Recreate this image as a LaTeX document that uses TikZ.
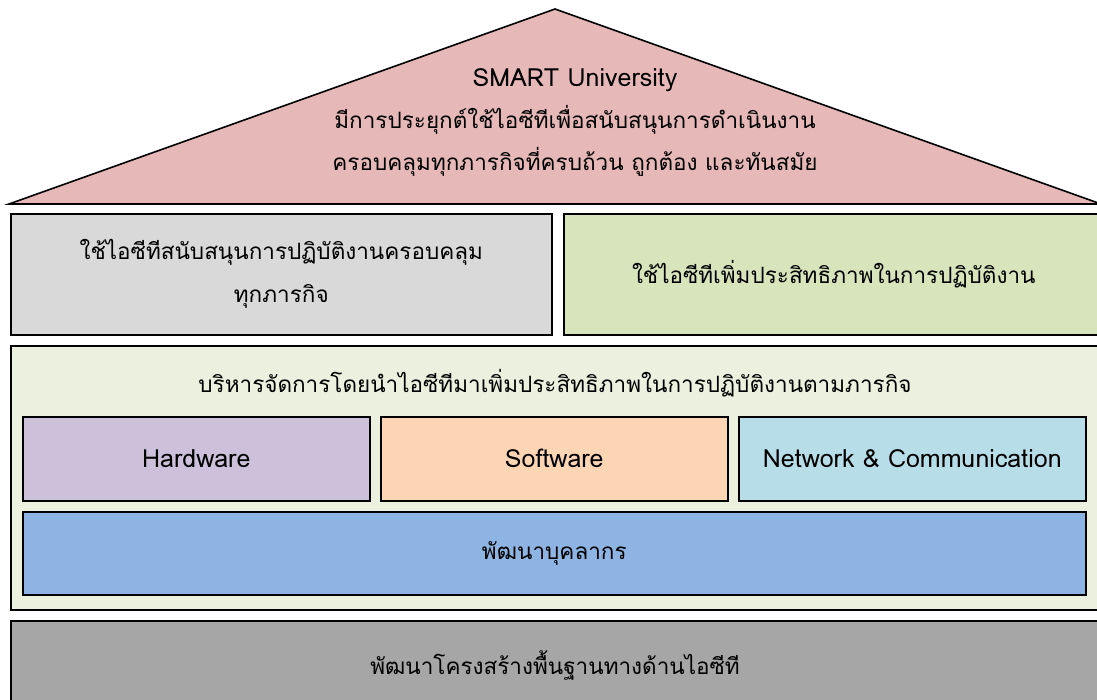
\documentclass[tikz,border=0pt]{standalone}
\usepackage{fontspec}
\setmainfont{Loma}[Script=Thai]
\usetikzlibrary{positioning}
\definecolor{roofpink}{HTML}{E6B8B7}
\definecolor{supgray}{HTML}{D9D9D9}
\definecolor{supgreen}{HTML}{D8E4BC}
\definecolor{mgmtbg}{HTML}{EBF1DE}
\definecolor{hwpurple}{HTML}{CCC0DA}
\definecolor{swpeach}{HTML}{FCD5B4}
\definecolor{netblue}{HTML}{B7DEE8}
\definecolor{staffblue}{HTML}{8DB4E2}
\definecolor{basegray}{HTML}{A6A6A6}
\newcommand{\latintext}{\fontsize{25}{43}\selectfont}
\tikzset{
  block/.style={draw=black, line width=1.6pt, align=center, inner sep=0pt, anchor=north west, font=\fontsize{22.5}{43}\selectfont},
  wideblock/.style={block, minimum width=541, minimum height=121},
  techblock/.style={block, minimum width=347, minimum height=84, font=\latintext},
  label/.style={align=center, inner sep=0pt, font=\fontsize{22.5}{42}\selectfont}
}

\begin{document}
\begin{tikzpicture}[x=1pt, y=-1pt]
  \useasboundingbox (0,0) rectangle (1097,699);
  \clip (0,0) rectangle (1097,699);
  % roof
  \draw[line width=1.6pt, fill=roofpink] (9,204) -- (555,9) -- (1101,204) -- cycle;
  \node[label] (roof) at (575,122) {{\latintext SMART University}\\มีการประยุกต์ใช้ไอซีทีเพื่อสนับสนุนการดำเนินงาน\\ครอบคลุมทุกภารกิจที่ครบถ้วน ถูกต้อง และทันสมัย};
  % support
  \node[wideblock, fill=supgray] (cover) at (10,213) {ใช้ไอซีทีสนับสนุนการปฏิบัติงานครอบคลุม\\ทุกภารกิจ};
  \node[wideblock, fill=supgreen, minimum width=540, right=10.4 of cover.north east, anchor=north west] (eff) {ใช้ไอซีทีเพิ่มประสิทธิภาพในการปฏิบัติงาน};
  % management
  \node[block, fill=mgmtbg, minimum width=1092, minimum height=264] (mgmt) at (10,345) {};
  \node[label] (mgmttitle) at (555,383) {บริหารจัดการโดยนำไอซีทีมาเพิ่มประสิทธิภาพในการปฏิบัติงานตามภารกิจ};
  \node[techblock, fill=hwpurple] (hw) at (22,416) {Hardware};
  \node[techblock, fill=swpeach, right=9.4 of hw.north east, anchor=north west] (sw) {Software};
  \node[techblock, fill=netblue, right=9.4 of sw.north east, anchor=north west] (net) {Network \& Communication};
  \node[block, fill=staffblue, minimum width=1063, minimum height=83] (staff) at (22,511) {พัฒนาบุคลากร};
  % base
  \node[block, fill=basegray, minimum width=1092, minimum height=100] (infra) at (10,620) {};
  \node[label] (infratext) at (555,665) {พัฒนาโครงสร้างพื้นฐานทางด้านไอซีที};
\end{tikzpicture}
\end{document}
